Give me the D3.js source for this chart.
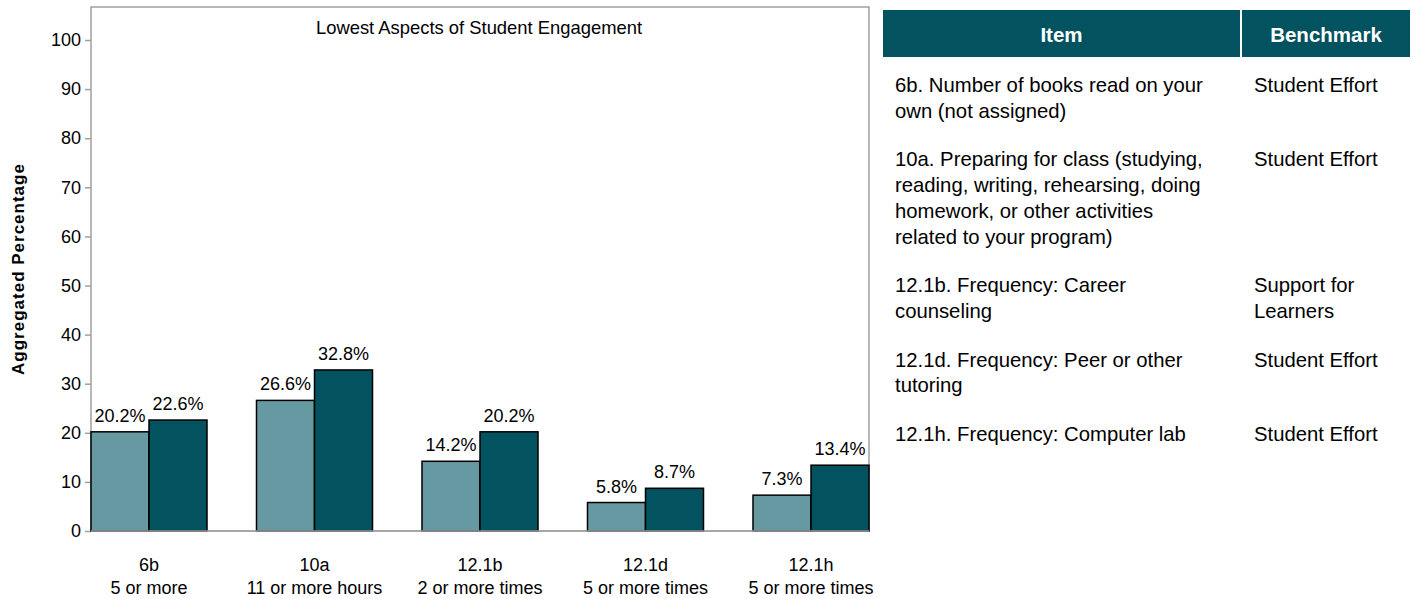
<!DOCTYPE html>
<html>
<head>
<meta charset="utf-8">
<script src="https://cdn.jsdelivr.net/npm/d3@7"></script>
<style>
  body { margin: 0; background: #fff; }
  svg { display: block; font-family: "Liberation Sans", Arial, sans-serif; }
</style>
</head>
<body>
<svg id="chart" width="1413" height="599"></svg>
<script>
// Chart data
const categories = ['6b', '10a', '12.1b', '12.1d', '12.1h'];
const subLabels = ['5 or more', '11 or more hours', '2 or more times', '5 or more times', '5 or more times'];
const seriesNames = ['Institution', 'Comparison'];
const seriesA = [20.2, 26.6, 14.2, 5.8, 7.3];
const seriesB = [22.6, 32.8, 20.2, 8.7, 13.4];
const yTicks = [0, 10, 20, 30, 40, 50, 60, 70, 80, 90, 100];

// Table data (lines as wrapped in the original)
const tableHeaders = ['Item', 'Benchmark'];
const itemLines = [
  ['6b. Number of books read on your', 'own (not assigned)'],
  ['10a. Preparing for class (studying,', 'reading, writing, rehearsing, doing', 'homework, or other activities', 'related to your program)'],
  ['12.1b. Frequency: Career', 'counseling'],
  ['12.1d. Frequency: Peer or other', 'tutoring'],
  ['12.1h. Frequency: Computer lab']
];
const benchmarkLines = [
  ['Student Effort'],
  ['Student Effort'],
  ['Support for', 'Learners'],
  ['Student Effort'],
  ['Student Effort']
];

const COLORS = ['#6699a2', '#02525f'];
const HEADER_FILL = '#02525f';
const FRAME = '#a0a0a0';

const svg = d3.select('#chart');

// Plot frame
const plot = { left: 91, right: 869, top: 7, bottom: 531 };
const barW = 58;

const x = d3.scalePoint()
  .domain(categories)
  .range([plot.left + barW, plot.right - barW]);
const xSeries = d3.scaleBand()
  .domain(seriesNames)
  .range([-barW, barW]);
const y = d3.scaleLinear()
  .domain([0, 100])
  .range([plot.bottom, 40]);

svg.append('rect')
  .attr('x', plot.left)
  .attr('y', plot.top)
  .attr('width', plot.right - plot.left)
  .attr('height', plot.bottom - plot.top)
  .attr('fill', 'none')
  .attr('stroke', FRAME)
  .attr('stroke-width', 1.5);

// Y axis
const yAxis = svg.append('g')
  .attr('transform', `translate(${plot.left},0)`)
  .call(d3.axisLeft(y).tickValues(yTicks).tickSize(6).tickPadding(4));
yAxis.select('.domain').remove();
yAxis.selectAll('line').attr('stroke', FRAME).attr('stroke-width', 1.5);
yAxis.selectAll('text')
  .attr('font-size', 18)
  .attr('font-family', '"Liberation Sans", Arial, sans-serif')
  .attr('fill', '#000');

svg.append('text')
  .attr('transform', `translate(24,269) rotate(-90)`)
  .attr('text-anchor', 'middle')
  .attr('font-size', 17)
  .attr('font-weight', 'bold')
  .attr('letter-spacing', 1)
  .text('Aggregated Percentage');

// Title
svg.append('text')
  .attr('x', (plot.left + plot.right) / 2 - 1)
  .attr('y', 34)
  .attr('text-anchor', 'middle')
  .attr('font-size', 18.4)
  .text('Lowest Aspects of Student Engagement');

// Bars
const rows = categories.map((c, i) => ({
  cat: c,
  values: [
    { name: seriesNames[0], value: seriesA[i] },
    { name: seriesNames[1], value: seriesB[i] }
  ]
}));

const groups = svg.append('g')
  .selectAll('g')
  .data(rows)
  .join('g')
  .attr('transform', d => `translate(${x(d.cat)},0)`);

groups.selectAll('rect')
  .data(d => d.values)
  .join('rect')
  .attr('x', d => xSeries(d.name))
  .attr('y', d => y(d.value))
  .attr('width', xSeries.bandwidth())
  .attr('height', d => y(0) - y(d.value))
  .attr('fill', (d, i) => COLORS[i])
  .attr('stroke', '#000')
  .attr('stroke-width', 1.5);

groups.selectAll('text.val')
  .data(d => d.values)
  .join('text')
  .attr('class', 'val')
  .attr('x', d => xSeries(d.name) + xSeries.bandwidth() / 2)
  .attr('y', d => y(d.value) - 10)
  .attr('text-anchor', 'middle')
  .attr('font-size', 18)
  .text(d => d.value.toFixed(1) + '%');

// Bottom axis line drawn over bars
svg.append('line')
  .attr('x1', plot.left).attr('x2', plot.right)
  .attr('y1', plot.bottom).attr('y2', plot.bottom)
  .attr('stroke', FRAME).attr('stroke-width', 1.5);

// Category labels
const catLabels = svg.append('g')
  .selectAll('text')
  .data(categories)
  .join('text')
  .attr('x', d => x(d))
  .attr('text-anchor', 'middle')
  .attr('font-size', 18);
catLabels.append('tspan').attr('x', d => x(d)).attr('y', 571).text(d => d);
catLabels.append('tspan').attr('x', d => x(d)).attr('y', 594).text((d, i) => subLabels[i]);

// Table
const cols = [
  { x: 883, w: 357, textX: 895 },
  { x: 1242, w: 168, textX: 1254 }
];
svg.append('g')
  .selectAll('rect')
  .data(cols)
  .join('rect')
  .attr('x', d => d.x)
  .attr('y', 10)
  .attr('width', d => d.w)
  .attr('height', 47)
  .attr('fill', HEADER_FILL);
svg.append('g')
  .selectAll('text')
  .data(tableHeaders)
  .join('text')
  .attr('x', (d, i) => cols[i].x + cols[i].w / 2)
  .attr('y', 42)
  .attr('text-anchor', 'middle')
  .attr('font-size', 20.5)
  .attr('font-weight', 'bold')
  .attr('fill', '#fff')
  .text(d => d);

const lineH = 25.7;
const rowGap = 23;
let rowY = 92;
const rowStarts = itemLines.map((lines, i) => {
  const start = rowY;
  const n = Math.max(lines.length, benchmarkLines[i].length);
  rowY += n * lineH + rowGap;
  return start;
});

const body = svg.append('g').attr('font-size', 20.3);
[itemLines, benchmarkLines].forEach((colData, ci) => {
  body.append('g')
    .selectAll('text')
    .data(colData)
    .join('text')
    .each(function(lines, ri) {
      d3.select(this).selectAll('tspan')
        .data(lines)
        .join('tspan')
        .attr('x', cols[ci].textX)
        .attr('y', (l, li) => rowStarts[ri] + li * lineH)
        .text(l => l);
    });
});
</script>
</body>
</html>
